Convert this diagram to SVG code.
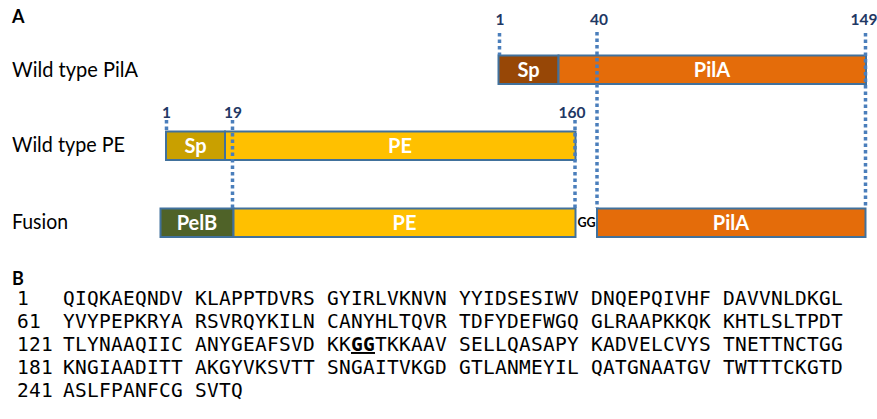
<svg xmlns="http://www.w3.org/2000/svg" width="877" height="419" viewBox="0 0 877 419">
<style>
.lbl{font-family:Lato,"Liberation Sans",sans-serif;font-size:20.5px;fill:#000}
.pnl{font-family:Lato,"Liberation Sans",sans-serif;font-size:18px;font-weight:bold;fill:#000}
.bar{stroke:#41719C;stroke-width:2}
.bt{font-family:Lato,"Liberation Sans",sans-serif;font-size:20px;font-weight:bold;fill:#fff;text-anchor:middle}
.num{font-family:Lato,"Liberation Sans",sans-serif;font-size:15.5px;font-weight:bold;fill:#1F3864;text-anchor:middle}
.dot{stroke:#4A7EBB;stroke-width:3.5;stroke-dasharray:3.5 3;fill:none}
.seq{font-family:"DejaVu Sans Mono",monospace;font-size:19.5px;letter-spacing:0.26px;fill:#000}
.gg{font-family:Lato,"Liberation Sans",sans-serif;font-size:12.5px;font-weight:bold;fill:#000}
</style>
<rect width="877" height="419" fill="#fff"/>
<text class="pnl" x="12" y="23">A</text>
<text class="pnl" x="12" y="285">B</text>

<g id="wt-pila">
<text class="lbl" x="12" y="77" textLength="126" lengthAdjust="spacingAndGlyphs">Wild type PilA</text>
<rect class="bar" x="498.5" y="55.5" width="60" height="28.5" fill="#974706"/>
<rect class="bar" x="558.5" y="55.5" width="307.5" height="28.5" fill="#E46C0A"/>
<text class="bt" x="528.5" y="77">Sp</text>
<text class="bt" x="712" y="77">PilA</text>
</g>

<g id="wt-pe">
<text class="lbl" x="12" y="152" textLength="113" lengthAdjust="spacingAndGlyphs">Wild type PE</text>
<rect class="bar" x="166" y="131.5" width="59" height="28.5" fill="#C9A000"/>
<rect class="bar" x="225" y="131.5" width="350.5" height="28.5" fill="#FFC000"/>
<text class="bt" x="195.5" y="153">Sp</text>
<text class="bt" x="400" y="153">PE</text>
</g>

<g id="fusion">
<text class="lbl" x="12" y="229" textLength="56" lengthAdjust="spacingAndGlyphs">Fusion</text>
<rect class="bar" x="160.5" y="208.5" width="73" height="28.5" fill="#4F6228"/>
<rect class="bar" x="233.5" y="208.5" width="342" height="28.5" fill="#FFC000"/>
<text class="gg" x="577.5" y="227">GG</text>
<rect class="bar" x="597" y="208.5" width="268.5" height="28.5" fill="#E46C0A"/>
<text class="bt" x="197" y="230">PelB</text>
<text class="bt" x="404.5" y="230">PE</text>
<text class="bt" x="731" y="230">PilA</text>
</g>

<g id="connectors">
<line class="dot" x1="499.5" y1="33" x2="499.5" y2="55"/>
<line class="dot" x1="597" y1="32" x2="597" y2="208"/>
<line class="dot" x1="865.5" y1="33" x2="865.5" y2="208"/>
<line class="dot" x1="166.5" y1="120" x2="166.5" y2="131"/>
<line class="dot" x1="232.5" y1="120" x2="232.5" y2="208"/>
<line class="dot" x1="575" y1="120" x2="575" y2="208"/>
</g>

<g id="positions">
<text class="num" x="500" y="25">1</text>
<text class="num" x="599" y="25">40</text>
<text class="num" x="864" y="25">149</text>
<text class="num" x="166.5" y="118">1</text>
<text class="num" x="233" y="118">19</text>
<text class="num" x="572" y="118">160</text>
</g>

<g id="sequence">
<text class="seq" x="17" y="305">1</text>
<text class="seq" x="17" y="328">61</text>
<text class="seq" x="17" y="351">121</text>
<text class="seq" x="17" y="374">181</text>
<text class="seq" x="17" y="397">241</text>
<text class="seq" x="63" y="305">QIQKAEQNDV KLAPPTDVRS GYIRLVKNVN YYIDSESIWV DNQEPQIVHF DAVVNLDKGL</text>
<text class="seq" x="63" y="328">YVYPEPKRYA RSVRQYKILN CANYHLTQVR TDFYDEFWGQ GLRAAPKKQK KHTLSLTPDT</text>
<text class="seq" x="63" y="351">TLYNAAQIIC ANYGEAFSVD KK<tspan font-weight="bold" text-decoration="underline">GG</tspan>TKKAAV SELLQASAPY KADVELCVYS TNETTNCTGG</text>
<text class="seq" x="63" y="374">KNGIAADITT AKGYVKSVTT SNGAITVKGD GTLANMEYIL QATGNAATGV TWTTTCKGTD</text>
<text class="seq" x="63" y="397">ASLFPANFCG SVTQ</text>
</g>
</svg>
